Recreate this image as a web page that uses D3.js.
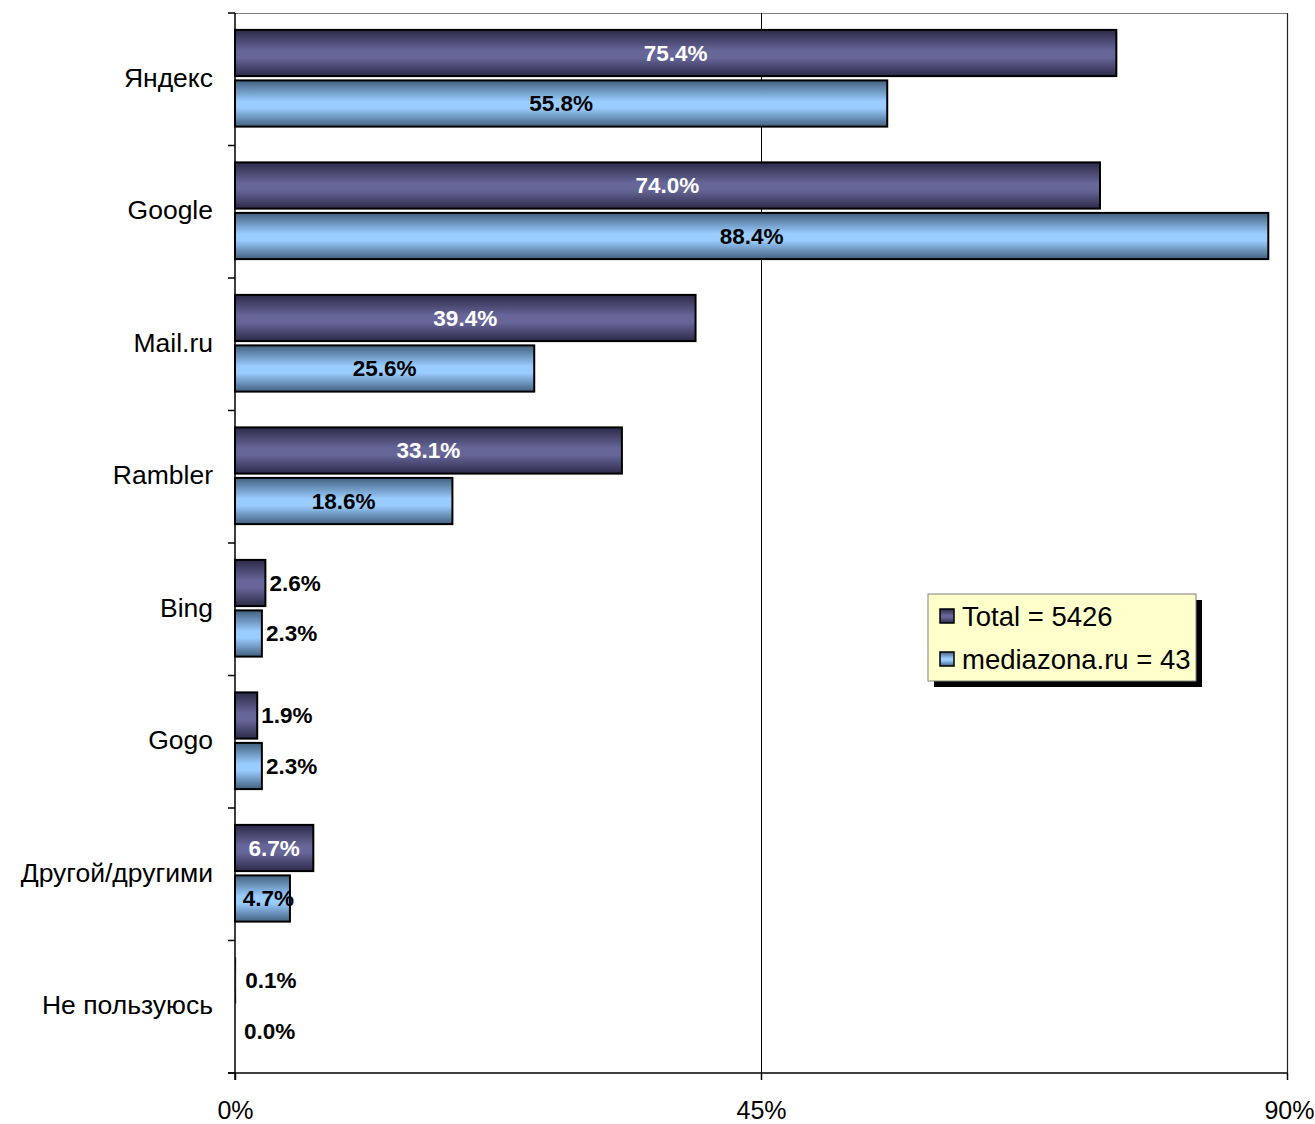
<!DOCTYPE html>
<html><head><meta charset="utf-8">
<script src="https://cdn.jsdelivr.net/npm/d3@7"></script>
<style>body{margin:0;background:#fff;} svg{display:block;font-family:Arial,"Liberation Sans",sans-serif;}</style>
</head><body>
<svg id="c" width="1315" height="1124"></svg>
<script>
const categories = ["Яндекс","Google","Mail.ru","Rambler","Bing","Gogo","Другой/другими","Не пользуюсь"];
const seriesNames = ["Total = 5426","mediazona.ru = 43"];
const totalValues = [75.4,74.0,39.4,33.1,2.6,1.9,6.7,0.1];
const mediazonaValues = [55.8,88.4,25.6,18.6,2.3,2.3,4.7,0.0];
const tickValues = [0,45,90];

const svg = d3.select("#c");
const L=235, R=1287, T=13, B=1073;
const x = d3.scaleLinear().domain([0,90]).range([L,R]);
const y0 = d3.scaleBand().domain(categories).range([T,B]).paddingInner(0.27).paddingOuter(0.135);
const y1 = d3.scaleBand().domain([0,1]).range([0,y0.bandwidth()]).paddingInner(0.085);

const defs = svg.append("defs");
const grads = [["g0","#2c2a48","#666699"],["g1","#42607e","#99ccff"]];
grads.forEach(([id,dark,light])=>{
  const g = defs.append("linearGradient").attr("id",id).attr("x1",0).attr("y1",0).attr("x2",0).attr("y2",1);
  g.append("stop").attr("offset","0%").attr("stop-color",dark);
  g.append("stop").attr("offset","45%").attr("stop-color",light);
  g.append("stop").attr("offset","60%").attr("stop-color",light);
  g.append("stop").attr("offset","100%").attr("stop-color",dark);
});

// plot border
svg.append("line").attr("x1",L).attr("x2",R).attr("y1",T+0.5).attr("y2",T+0.5).attr("stroke","#808080").attr("stroke-width",1.2);
svg.append("line").attr("x1",R+0.5).attr("x2",R+0.5).attr("y1",T).attr("y2",B).attr("stroke","#222").attr("stroke-width",1.2);
// gridline 45
svg.append("line").attr("x1",x(45)+0.5).attr("x2",x(45)+0.5).attr("y1",T).attr("y2",B).attr("stroke","#000").attr("stroke-width",1);

const data = categories.map((c,i)=>({cat:c, vals:[totalValues[i], mediazonaValues[i]]}));
const groups = svg.append("g").selectAll("g").data(data).join("g")
  .attr("transform",d=>`translate(0,${y0(d.cat)-1})`);

groups.each(function(d){
  const g = d3.select(this);
  d.vals.forEach((v,si)=>{
    const yy = y1(si), h = y1.bandwidth();
    if(v>0){
      g.append("rect").attr("x",x(0)).attr("y",yy).attr("width",x(v)-x(0)).attr("height",h)
        .attr("fill",`url(#g${si})`).attr("stroke",v>0.5?"#000":"none").attr("stroke-width",2);
    }
    const inside = v>=4;
    const lx = inside ? (x(0)+x(v))/2 + (v<5?6:0) : x(v)+4 + (v<0.5?5:0);
    g.append("text").attr("x",lx).attr("y",yy+h/2).attr("dy","0.35em")
      .attr("text-anchor",inside?"middle":"start")
      .attr("font-size",22.5).attr("font-weight","bold")
      .attr("fill",inside && si===0 ? "#fff" : "#000")
      .text(v.toFixed(1)+"%");
  });
});

// left axis
svg.append("line").attr("x1",L).attr("x2",L).attr("y1",T).attr("y2",B+7).attr("stroke","#000").attr("stroke-width",1.5);
const cutTicks = d3.range(categories.length+1).map(i=>T+i*(B-T)/categories.length);
svg.append("g").selectAll("line").data(cutTicks).join("line")
  .attr("x1",L-7).attr("x2",L).attr("y1",d=>d).attr("y2",d=>d).attr("stroke","#000").attr("stroke-width",1.5);
svg.append("g").selectAll("text").data(categories).join("text")
  .attr("x",213).attr("y",d=>y0(d)+y0.bandwidth()/2-2).attr("dy","0.35em").attr("text-anchor","end")
  .attr("font-size",26.5).attr("fill","#000").text(d=>d);

// bottom axis
svg.append("line").attr("x1",L-7).attr("x2",R).attr("y1",B).attr("y2",B).attr("stroke","#000").attr("stroke-width",1.5);
const xa = svg.append("g").attr("transform",`translate(0,${B})`).call(d3.axisBottom(x).tickValues(tickValues).tickSize(7).tickFormat(d=>d+"%"));
xa.select(".domain").remove();
xa.selectAll("line").attr("stroke","#000").attr("stroke-width",1.5);
xa.selectAll("text").attr("font-size",25).attr("font-family","Arial,'Liberation Sans',sans-serif").attr("fill","#000").attr("dy","1.45em");
xa.selectAll(".tick").filter(d=>d===90).select("text").attr("text-anchor","end").attr("dx","27");

// legend
const lg = svg.append("g").attr("transform","translate(928,594)");
lg.append("rect").attr("x",6).attr("y",6).attr("width",268).attr("height",87).attr("fill","#000");
lg.append("rect").attr("x",0).attr("y",0).attr("width",268).attr("height",87).attr("fill","#ffffcc").attr("stroke","#808080").attr("stroke-width",1);
seriesNames.forEach((s,i)=>{
  const yy = 22 + i*43;
  lg.append("rect").attr("x",12).attr("y",yy-7).attr("width",14).attr("height",14)
    .attr("fill",`url(#g${i})`).attr("stroke","#000").attr("stroke-width",1.5);
  lg.append("text").attr("x",34).attr("y",yy).attr("dy","0.36em").attr("font-size",27.5).attr("fill","#000").text(s);
});
</script>
</body></html>
